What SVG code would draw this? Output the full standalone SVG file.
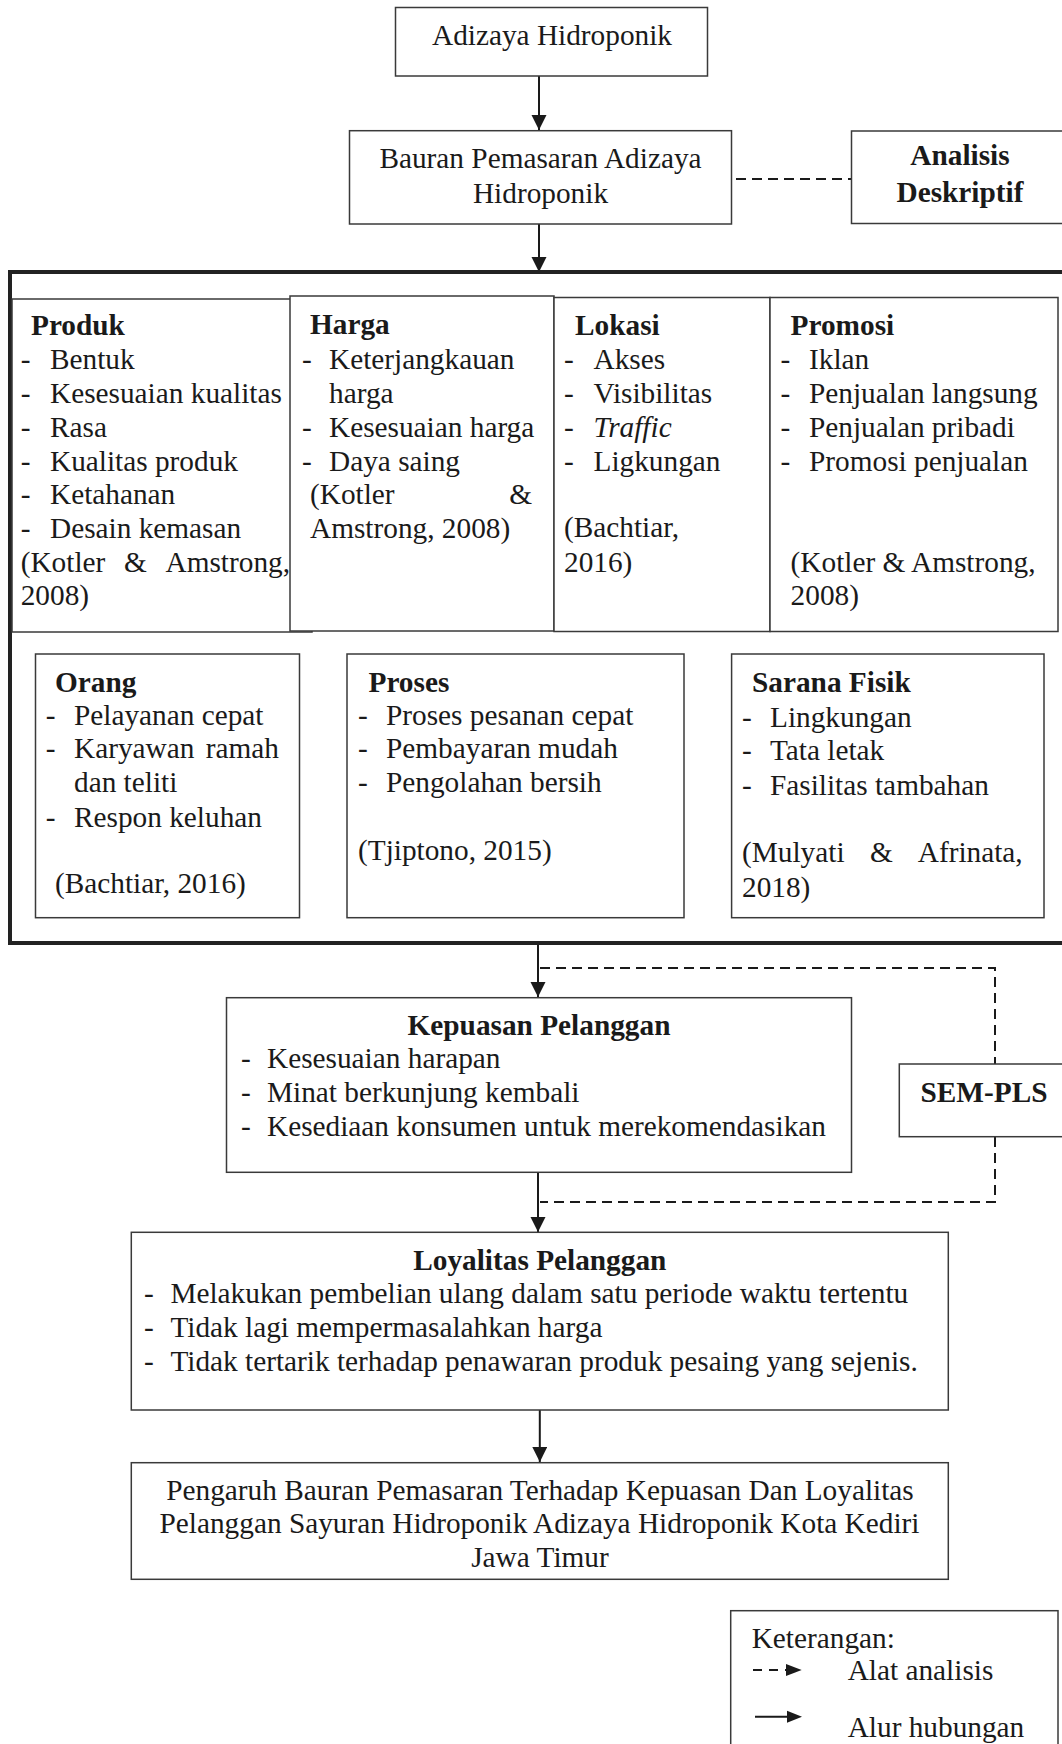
<svg xmlns="http://www.w3.org/2000/svg" width="1062" height="1744" viewBox="0 0 1062 1744">
<defs>
<marker id="ah" markerUnits="userSpaceOnUse" markerWidth="16" markerHeight="16" refX="15" refY="7.5" orient="auto" viewBox="0 0 16 16"><path d="M0,0 L15,7.5 L0,15 z" fill="#1a1a1a"/></marker>
<style>
text{font-family:"Liberation Serif","Times New Roman",serif;font-size:29.3px;fill:#1a1a1a}
.b{font-weight:bold}
.i{font-style:italic}
.m{text-anchor:middle}
.e{text-anchor:end}
.box{fill:#fff;stroke:#3a3a3a;stroke-width:1.5}
.big{fill:none;stroke:#222;stroke-width:4}
.c{stroke:#1a1a1a;stroke-width:2;fill:none}
.d{stroke:#1a1a1a;stroke-width:2;fill:none;stroke-dasharray:10 6}
</style>
</defs>
<rect x="0" y="0" width="1062" height="1744" fill="#fff"/>

<g id="connectors">
<line class="c" x1="539" y1="76" x2="539" y2="130" marker-end="url(#ah)"/>
<line class="c" x1="539" y1="224" x2="539" y2="272" marker-end="url(#ah)"/>
<line class="d" x1="736" y1="179" x2="851" y2="179"/>
<line class="c" x1="538" y1="945" x2="538" y2="997" marker-end="url(#ah)"/>
<line class="c" x1="538" y1="1172" x2="538" y2="1232" marker-end="url(#ah)"/>
<line class="c" x1="539.8" y1="1410" x2="539.8" y2="1462" marker-end="url(#ah)"/>
<polyline class="d" points="540,968 995,968 995,1064"/>
<polyline class="d" points="995,1137 995,1202 540,1202"/>
</g>

<g id="adizaya">
<rect class="box" x="395.5" y="7.5" width="312" height="68.5"/>
<text class="m" x="552" y="45">Adizaya Hidroponik</text>
</g>

<g id="bauran">
<rect class="box" x="349.5" y="130.7" width="382" height="93.3"/>
<text class="m" x="540.5" y="168">Bauran Pemasaran Adizaya</text>
<text class="m" x="540.5" y="203">Hidroponik</text>
</g>

<g id="analisis">
<rect class="box" x="851.5" y="131" width="220" height="92.5"/>
<text class="m b" x="960" y="165">Analisis</text>
<text class="m b" x="960" y="201.7">Deskriptif</text>
</g>

<g id="bauran-mix">
<rect class="big" x="10" y="272" width="1060" height="671"/>
</g>

<g id="produk">
<rect class="box" x="12" y="299" width="300" height="333"/>
<text class="b" x="31" y="335">Produk</text>
<text x="20.7" y="369">-</text><text x="50" y="369">Bentuk</text>
<text x="20.7" y="403">-</text><text x="50" y="403">Kesesuaian kualitas</text>
<text x="20.7" y="437">-</text><text x="50" y="437">Rasa</text>
<text x="20.7" y="471">-</text><text x="50" y="471">Kualitas produk</text>
<text x="20.7" y="504">-</text><text x="50" y="504">Ketahanan</text>
<text x="20.7" y="538">-</text><text x="50" y="538">Desain kemasan</text>
<text x="20.7" y="572">(Kotler</text><text x="124" y="572">&amp;</text><text class="e" x="290" y="572">Amstrong,</text>
<text x="20.7" y="605">2008)</text>
</g>

<g id="harga">
<rect class="box" x="290" y="296" width="264" height="335"/>
<text class="b" x="310" y="334">Harga</text>
<text x="302" y="369">-</text><text x="329" y="369">Keterjangkauan</text>
<text x="329" y="403">harga</text>
<text x="302" y="437">-</text><text x="329" y="437">Kesesuaian harga</text>
<text x="302" y="471">-</text><text x="329" y="471">Daya saing</text>
<text x="310" y="504">(Kotler</text><text class="e" x="532" y="504">&amp;</text>
<text x="310" y="538">Amstrong, 2008)</text>
</g>

<g id="lokasi">
<rect class="box" x="554" y="297.5" width="216" height="334"/>
<text class="b" x="575" y="335">Lokasi</text>
<text x="564" y="369">-</text><text x="593.5" y="369">Akses</text>
<text x="564" y="403">-</text><text x="593.5" y="403">Visibilitas</text>
<text x="564" y="437">-</text><text class="i" x="593.5" y="437">Traffic</text>
<text x="564" y="471">-</text><text x="593.5" y="471">Ligkungan</text>
<text x="564" y="537">(Bachtiar,</text>
<text x="564" y="572">2016)</text>
</g>

<g id="promosi">
<rect class="box" x="770" y="297.5" width="288" height="334"/>
<text class="b" x="790.6" y="335">Promosi</text>
<text x="780.4" y="369">-</text><text x="809" y="369">Iklan</text>
<text x="780.4" y="403">-</text><text x="809" y="403">Penjualan langsung</text>
<text x="780.4" y="437">-</text><text x="809" y="437">Penjualan pribadi</text>
<text x="780.4" y="471">-</text><text x="809" y="471">Promosi penjualan</text>
<text x="790.6" y="572">(Kotler &amp; Amstrong,</text>
<text x="790.6" y="605">2008)</text>
</g>

<g id="orang">
<rect class="box" x="35.5" y="654" width="264" height="263.7"/>
<text class="b" x="55" y="692">Orang</text>
<text x="45.8" y="725">-</text><text x="74" y="725">Pelayanan cepat</text>
<text x="45.8" y="758">-</text><text x="74" y="758">Karyawan</text><text class="e" x="279" y="758">ramah</text>
<text x="74" y="792">dan teliti</text>
<text x="45.8" y="826.7">-</text><text x="74" y="826.7">Respon keluhan</text>
<text x="55" y="893">(Bachtiar, 2016)</text>
</g>

<g id="proses">
<rect class="box" x="347" y="654" width="337" height="263.7"/>
<text class="b" x="368.5" y="692">Proses</text>
<text x="358" y="725">-</text><text x="386" y="725">Proses pesanan cepat</text>
<text x="358" y="758">-</text><text x="386" y="758">Pembayaran mudah</text>
<text x="358" y="792">-</text><text x="386" y="792">Pengolahan bersih</text>
<text x="358" y="860">(Tjiptono, 2015)</text>
</g>

<g id="sarana-fisik">
<rect class="box" x="731.6" y="654" width="312.4" height="263.7"/>
<text class="b" x="752" y="692">Sarana Fisik</text>
<text x="742" y="727">-</text><text x="770" y="727">Lingkungan</text>
<text x="742" y="760">-</text><text x="770" y="760">Tata letak</text>
<text x="742" y="795">-</text><text x="770" y="795">Fasilitas tambahan</text>
<text x="742" y="861.7">(Mulyati</text><text x="870" y="861.7">&amp;</text><text class="e" x="1022.7" y="861.7">Afrinata,</text>
<text x="742" y="896.7">2018)</text>
</g>

<g id="kepuasan">
<rect class="box" x="226.5" y="997.7" width="625" height="174.6"/>
<text class="m b" x="539" y="1035">Kepuasan Pelanggan</text>
<text x="241" y="1068">-</text><text x="267" y="1068">Kesesuaian harapan</text>
<text x="241" y="1102">-</text><text x="267" y="1102">Minat berkunjung kembali</text>
<text x="241" y="1136">-</text><text x="267" y="1136">Kesediaan konsumen untuk merekomendasikan</text>
</g>

<g id="sem-pls">
<rect class="box" x="899.3" y="1064" width="170" height="72.7"/>
<text class="m b" x="984" y="1102.3">SEM-PLS</text>
</g>

<g id="loyalitas">
<rect class="box" x="131.3" y="1232.3" width="817" height="177.7"/>
<text class="m b" x="539.8" y="1270">Loyalitas Pelanggan</text>
<text x="144" y="1303.3">-</text><text x="170.4" y="1303.3">Melakukan pembelian ulang dalam satu periode waktu tertentu</text>
<text x="144" y="1337.3">-</text><text x="170.4" y="1337.3">Tidak lagi mempermasalahkan harga</text>
<text x="144" y="1370.7">-</text><text x="170.4" y="1370.7">Tidak tertarik terhadap penawaran produk pesaing yang sejenis.</text>
</g>

<g id="pengaruh">
<rect class="box" x="131.3" y="1462.7" width="817" height="116.6"/>
<text class="m" x="540" y="1500">Pengaruh Bauran Pemasaran Terhadap Kepuasan Dan Loyalitas</text>
<text class="m" x="539.5" y="1533.3">Pelanggan Sayuran Hidroponik Adizaya Hidroponik Kota Kediri</text>
<text class="m" x="540" y="1566.7">Jawa Timur</text>
</g>

<g id="keterangan">
<rect class="box" x="730.7" y="1610.7" width="327.3" height="200"/>
<text x="751.7" y="1648.3">Keterangan:</text>
<line x1="753" y1="1670" x2="786" y2="1670" stroke="#1a1a1a" stroke-width="2" stroke-dasharray="9 7"/>
<polygon points="786,1664 801.7,1670 786,1676" fill="#1a1a1a"/>
<text x="847.7" y="1680">Alat analisis</text>
<line x1="755" y1="1716.7" x2="788" y2="1716.7" stroke="#1a1a1a" stroke-width="2"/>
<polygon points="787,1710.7 802,1716.7 787,1722.7" fill="#1a1a1a"/>
<text x="847.7" y="1736.7">Alur hubungan</text>
</g>
</svg>
